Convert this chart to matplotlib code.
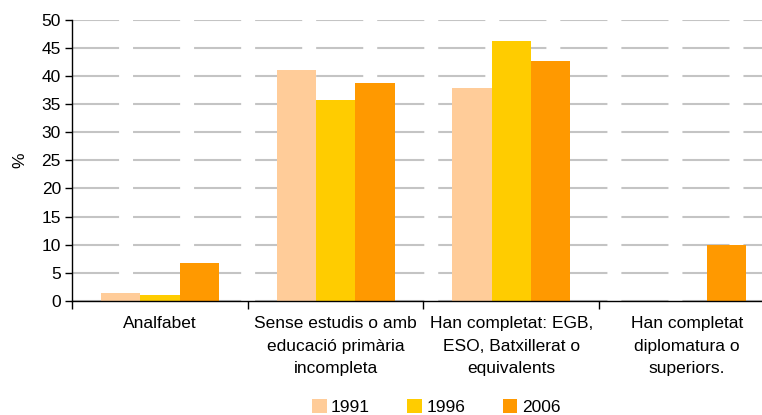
import matplotlib.pyplot as plt
import numpy as np

# Data
categories = ['Analfabet',
              'Sense estudis o amb\neducació primària\nincompleta',
              'Han completat: EGB,\nESO, Batxillerat o\nequivalents',
              'Han completat\ndiplomatura o\nsuperiors.']
years = ['1991', '1996', '2006']
vals_1991 = [1.5, 41.0, 37.8, 0.0]
vals_1996 = [1.0, 35.7, 46.1, 0.0]
vals_2006 = [6.8, 38.7, 42.7, 9.9]
colors = ['#FFCC99', '#FFCC00', '#FF9900']
yticks = np.arange(0, 51, 5)

plt.rcParams['font.family'] = ['Liberation Sans', 'DejaVu Sans']

fig = plt.figure(figsize=(7.62, 4.15), dpi=100)
# the plot area runs past the right edge of the picture, as in the original
ax = fig.add_axes([72 / 762, 1 - 301 / 415, 702.8 / 762, 281.5 / 415])

x = np.arange(len(categories)) + 0.5
w = 0.224
for i, (vals, yr) in enumerate(zip([vals_1991, vals_1996, vals_2006], years)):
    ax.bar(x + (i - 1) * w, vals, w, color=colors[i], label=yr, zorder=3)

ax.set_xlim(0, len(categories))
ax.set_ylim(0, 50)
ax.set_yticks(yticks)
ax.tick_params(axis='y', labelsize=12.5, length=5, width=1, direction='out', pad=3)
ax.yaxis.grid(True, color='#c4c4c4', linewidth=1.5, linestyle=(0, (22.6, 6.7)), zorder=0)

ax.set_xticks(np.arange(len(categories) + 1))
ax.set_xticklabels([])
ax.set_xticks(x, minor=True)
ax.set_xticklabels(categories, minor=True, fontsize=12.5, linespacing=1.62)
ax.tick_params(axis='x', which='major', length=6, width=1)
ax.tick_params(axis='x', which='minor', length=0, pad=11)

for s in ['top', 'right']:
    ax.spines[s].set_visible(False)
for s in ['left', 'bottom']:
    ax.spines[s].set_linewidth(1)
    ax.spines[s].set_zorder(4)

ax.set_ylabel('%', fontsize=12.5, labelpad=10)

fig.legend(loc='lower center', bbox_to_anchor=(436 / 762, -0.038), ncol=3, frameon=False,
           fontsize=12.5, handlelength=0.85, handleheight=0.9, handletextpad=0.25,
           columnspacing=2.15)

fig.savefig('out.png', dpi=100)
